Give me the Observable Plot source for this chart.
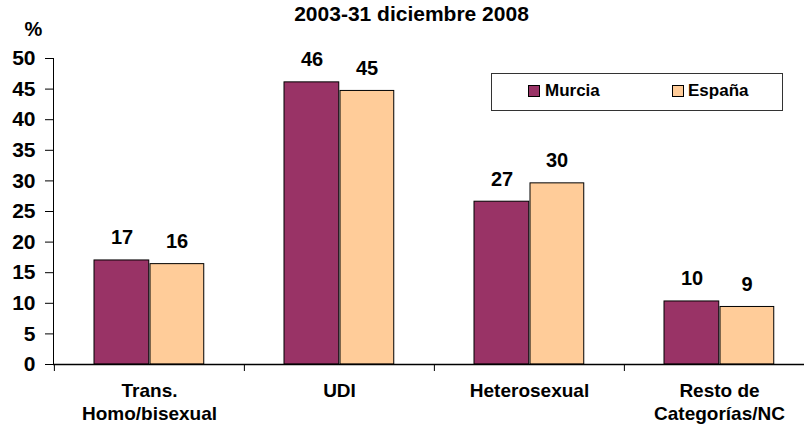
<!DOCTYPE html>
<html>
<head>
<meta charset="utf-8">
<script src="https://cdn.jsdelivr.net/npm/d3@7"></script>
<script src="https://cdn.jsdelivr.net/npm/@observablehq/plot@0.6"></script>
<style>
  html, body { margin: 0; padding: 0; background: #fff; }
  #wrap { position: relative; width: 804px; height: 426px; font-family: "Liberation Sans", Arial, sans-serif; }
  #legend { position: absolute; left: 491px; top: 73px; width: 290px; height: 36px; border: 1px solid #333; background: #fff; font-weight: bold; font-size: 17px; }
  .sw { position: absolute; width: 10px; height: 10px; border: 1px solid #000; top: 11px; }
  .lt { position: absolute; top: 7px; line-height: 20px; }
</style>
</head>
<body>
<div id="wrap"></div>
<script>
const title = "2003-31 diciembre 2008";
const yLabel = "%";
const categories = ["Trans.\nHomo/bisexual", "UDI", "Heterosexual", "Resto de\nCategorías/NC"];
const series = ["Murcia", "España"];
const colors = ["#993366", "#FFCC99"];
const murcia = [17.0, 46.1, 26.6, 10.3];
const espana = [16.4, 44.7, 29.6, 9.4];
const yTicks = [0, 5, 10, 15, 20, 25, 30, 35, 40, 45, 50];

const dataM = categories.map((c, i) => ({cat: c, value: murcia[i]}));
const dataE = categories.map((c, i) => ({cat: c, value: espana[i]}));

const font = "Liberation Sans, Arial, sans-serif";
const step = (814 - 53) / categories.length;

const chart = Plot.plot({
  width: 804,
  height: 426,
  marginLeft: 53,
  marginRight: 0,
  marginTop: 58,
  marginBottom: 62,
  style: {fontFamily: font, background: "#fff", color: "#000"},
  x: {domain: categories, range: [53, 814], padding: 0, label: null},
  y: {domain: [0, 50], label: null},
  marks: [
    Plot.barY(dataM, {x: "cat", y: "value", fill: colors[0], stroke: "#000", strokeWidth: 1, insetLeft: 40, insetRight: step - 95}),
    Plot.barY(dataE, {x: "cat", y: "value", fill: colors[1], stroke: "#000", strokeWidth: 1, insetLeft: 96, insetRight: step - 150}),
    Plot.text(dataM, {x: "cat", y: "value", text: d => String(Math.round(d.value)), dx: -27.5, dy: -16, lineAnchor: "bottom", fontSize: 20, fontWeight: "bold", fill: "#000"}),
    Plot.text(dataE, {x: "cat", y: "value", text: d => String(Math.round(d.value)), dx: 27.5, dy: -16, lineAnchor: "bottom", fontSize: 20, fontWeight: "bold", fill: "#000"}),
    Plot.axisY({ticks: yTicks, tickSize: 8, tickPadding: 10, fontSize: 21, fontWeight: "bold", label: null, stroke: "#000", fill: "#000"}),
    Plot.axisX({tickSize: 7, text: null, dx: -step / 2, label: null, stroke: "#000"}),
    Plot.axisX({tickSize: 0, tickPadding: 16, fontSize: 19, fontWeight: "bold", label: null, lineHeight: 1.22, fill: "#000"}),
    Plot.frame({anchor: "left", stroke: "#000"}),
    Plot.ruleY([0], {stroke: "#000", strokeWidth: 1.5}),
    Plot.text([title], {frameAnchor: "top", dx: -17.5, dy: -52, fontSize: 21, fontWeight: "bold", fill: "#000"}),
    Plot.text([yLabel], {frameAnchor: "top-left", dx: -20, dy: -37, textAnchor: "middle", fontSize: 20, fontWeight: "bold", fill: "#000"})
  ]
});

const wrap = document.getElementById("wrap");
wrap.appendChild(chart);

const legend = document.createElement("div");
legend.id = "legend";
const swLeft = [36, 180];
const txtLeft = [53, 196];
series.forEach((s, i) => {
  const sw = document.createElement("span");
  sw.className = "sw";
  sw.style.left = swLeft[i] + "px";
  sw.style.background = colors[i];
  legend.appendChild(sw);
  const t = document.createElement("span");
  t.className = "lt";
  t.style.left = txtLeft[i] + "px";
  t.textContent = s;
  legend.appendChild(t);
});
wrap.appendChild(legend);
</script>
</body>
</html>
